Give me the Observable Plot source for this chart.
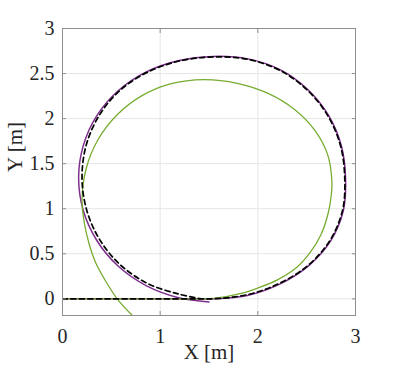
<!DOCTYPE html>
<html>
<head>
<meta charset="utf-8">
<script src="https://cdn.jsdelivr.net/npm/d3@7"></script>
<script src="https://cdn.jsdelivr.net/npm/@observablehq/plot@0.6"></script>
<style>
  html, body { margin: 0; padding: 0; background: #fff; }
  #chart svg, #chart svg text { font-family: "Liberation Serif", "Times New Roman", serif !important; }
</style>
</head>
<body>
<div id="chart"></div>
<script>
// Tick values and labels
const xTicks = [0, 1, 2, 3];
const xLabels = ["0", "1", "2", "3"];
const yTicks = [0, 0.5, 1, 1.5, 2, 2.5, 3];
const yLabels = ["0", "0.5", "1", "1.5", "2", "2.5", "3"];

// Reference path (black dashed)
const refX = [0, 0.5, 1.0, 1.45, 1.545, 1.892, 2.220, 2.514, 2.740, 2.868, 2.890, 2.849, 2.723, 2.514, 2.233, 1.898, 1.545, 1.197, 0.867, 0.580, 0.367, 0.239, 0.200, 0.246, 0.376, 0.587, 0.870, 1.200, 1.42];
const refY = [0, 0, 0, 0, 0.0, 0.046, 0.171, 0.371, 0.650, 0.985, 1.34, 1.689, 2.020, 2.309, 2.531, 2.658, 2.685, 2.639, 2.513, 2.305, 2.020, 1.690, 1.34, 0.992, 0.665, 0.382, 0.171, 0.050, 0.0];

// Purple path
const purX = [0, 0.5, 1.0, 1.45, 1.545, 1.894, 2.224, 2.519, 2.747, 2.876, 2.898, 2.857, 2.730, 2.519, 2.237, 1.900, 1.545, 1.195, 0.863, 0.573, 0.350, 0.212, 0.165, 0.212, 0.350, 0.569, 0.856, 1.189, 1.50];
const purY = [0, 0, 0, 0, 0.0, 0.038, 0.164, 0.366, 0.646, 0.983, 1.34, 1.691, 2.024, 2.314, 2.538, 2.663, 2.690, 2.646, 2.522, 2.312, 2.030, 1.697, 1.34, 0.983, 0.650, 0.364, 0.147, 0.012, -0.035];

// Green path
const grnX = [0, 0.5, 1.0, 1.4, 1.55, 1.83, 2.0, 2.2, 2.4, 2.54, 2.65, 2.72, 2.752, 2.758, 2.715, 2.584, 2.376, 2.105, 1.789, 1.45, 1.104, 0.81, 0.557, 0.363, 0.242, 0.2, 0.222, 0.27, 0.34, 0.44, 0.56, 0.715];
const grnY = [0, 0, 0, 0, 0.005, 0.06, 0.12, 0.21, 0.35, 0.52, 0.72, 0.95, 1.15, 1.31, 1.60, 1.87, 2.102, 2.28, 2.392, 2.433, 2.385, 2.252, 2.04, 1.765, 1.444, 1.1, 0.85, 0.62, 0.4, 0.2, 0.0, -0.185];

const toRows = (xs, ys) => xs.map((x, i) => ({x, y: ys[i]}));
const ref = toRows(refX, refY);
const pur = toRows(purX, purY);
const grn = toRows(grnX, grnY);

const axisGray = "#8f8f8f";
const textCol = "#262626";
const serif = "Liberation Serif, Times New Roman, serif";

const chart = Plot.plot({
  width: 393,
  height: 373,
  marginLeft: 62,
  marginRight: 38,
  marginTop: 28,
  marginBottom: 58,
  x: {domain: [0, 3]},
  y: {domain: [-0.185, 3]},
  style: "font-family: 'Liberation Serif', 'Times New Roman', serif; font-size: 20px; color: #262626; background: white;",
  marks: [
    Plot.gridX(xTicks, {stroke: "#e6e6e6", strokeOpacity: 1}),
    Plot.gridY(yTicks, {stroke: "#e6e6e6", strokeOpacity: 1}),
    Plot.line(pur, {x: "x", y: "y", stroke: "#7E2F8E", strokeWidth: 1.5, curve: "catmull-rom", clip: true}),
    Plot.line(grn, {x: "x", y: "y", stroke: "#77AC30", strokeWidth: 1.3, curve: "catmull-rom", clip: true}),
    Plot.line(ref, {x: "x", y: "y", stroke: "#000", strokeWidth: 1.7, strokeDasharray: "5,3.5", curve: "catmull-rom", clip: true}),
    Plot.frame({stroke: axisGray}),
    Plot.axisX(xTicks, {anchor: "bottom", tickSize: -4, tickFormat: () => "", stroke: axisGray, label: null}),
    Plot.axisX(xTicks, {anchor: "top", tickSize: -4, tickFormat: () => "", stroke: axisGray, label: null}),
    Plot.axisY(yTicks, {anchor: "left", tickSize: -4, tickFormat: () => "", stroke: axisGray, label: null}),
    Plot.axisY(yTicks, {anchor: "right", tickSize: -4, tickFormat: () => "", stroke: axisGray, label: null}),
    Plot.axisX(xTicks, {anchor: "bottom", tickSize: 0, tickPadding: 13, tickFormat: d => xLabels[xTicks.indexOf(d)], fill: textCol, label: null, fontFamily: serif, fontSize: 20}),
    Plot.axisY(yTicks, {anchor: "left", tickSize: 0, tickPadding: 8, tickFormat: d => yLabels[yTicks.indexOf(d)], fill: textCol, label: null, fontFamily: serif, fontSize: 20}),
    Plot.text(["X [m]"], {text: d => d, frameAnchor: "bottom", dy: 43, fill: textCol, fontSize: 21, fontFamily: serif}),
    Plot.text(["Y [m]"], {text: d => d, frameAnchor: "left", dx: -47, rotate: -90, fill: textCol, fontSize: 21, fontFamily: serif})
  ]
});
document.getElementById("chart").appendChild(chart);
</script>
</body>
</html>
